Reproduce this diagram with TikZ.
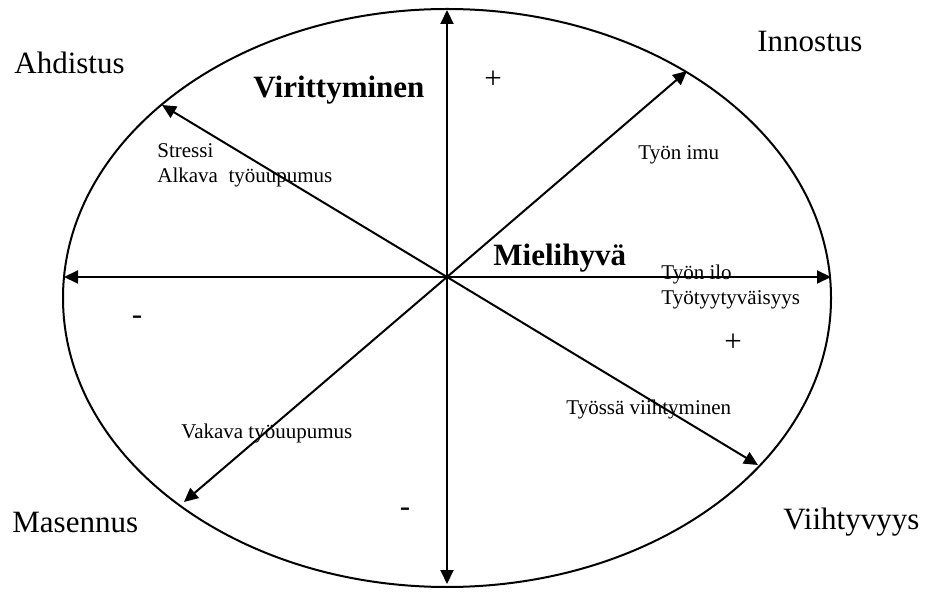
\documentclass[tikz,border=0pt]{standalone}
\usepackage{fontspec}
\setmainfont{Liberation Serif}
\usetikzlibrary{arrows.meta}
\tikzset{
  axis/.style={line width=1pt, -{Triangle[length=7pt,width=6.5pt]}},
  big/.style={inner sep=0pt, anchor=base west, font=\fontsize{15.5}{18}\selectfont},
  bigbold/.style={inner sep=0pt, anchor=base west, font=\fontsize{15.5}{18}\selectfont\bfseries},
  small/.style={inner sep=0pt, anchor=base west, font=\fontsize{10.5}{12.6}\selectfont},
  sign/.style={inner sep=0pt, font=\fontsize{15.5}{18}\selectfont}
}
\begin{document}
\begin{tikzpicture}[x=0.5pt, y=-0.5pt]
        \useasboundingbox (0,0) rectangle (925,592);
        \draw[line width=1pt](447,298) ellipse[x radius=192pt, y radius=144.5pt];
        \coordinate (O) at (447,277);
        \coordinate (N) at (447,10);
        \coordinate (S) at (447,584);
        \coordinate (W) at (64,277);
        \coordinate (E) at (831,277);
        \coordinate (NE) at (687,71);
        \coordinate (NW) at (162,105);
        \coordinate (SW) at (184,502);
        \coordinate (SE) at (758,465);
        \draw[axis](O)--(N);
        \draw[axis](O)--(S);
        \draw[axis](O)--(W);
        \draw[axis](O)--(E);
        \draw[axis](O)--(NE);
        \draw[axis](O)--(NW);
        \draw[axis](O)--(SW);
        \draw[axis](O)--(SE);
        \node[big](ahd) at (14,74){Ahdistus};
        \node[big](inn) at (757,52){Innostus};
        \node[big](mas) at (12,532){Masennus};
        \node[big](vii) at (783,529){Viihtyvyys};
        \node[bigbold](vir) at (253,98){Virittyminen};
        \node[bigbold](mie) at (493,266){Mielihyvä};
        \node[small](str) at (157,158){Stressi};
        \node[small](alk) at (157,183){Alkava\ \ työuupumus};
        \node[small](imu) at (638,160){Työn imu};
        \node[small](ilo) at (661,280){Työn ilo};
        \node[small](tyy) at (661,305){Työtyytyväisyys};
        \node[small](via) at (566,415){Työssä viihtyminen};
        \node[small](vak) at (181,438){Vakava työuupumus};
        \node[sign](p1) at (493,80){+};
        \node[sign](p2) at (733,343){+};
        \node[sign](m1) at (137,320){-};
        \node[sign](m2) at (405,512){-};
\end{tikzpicture}
\end{document}
